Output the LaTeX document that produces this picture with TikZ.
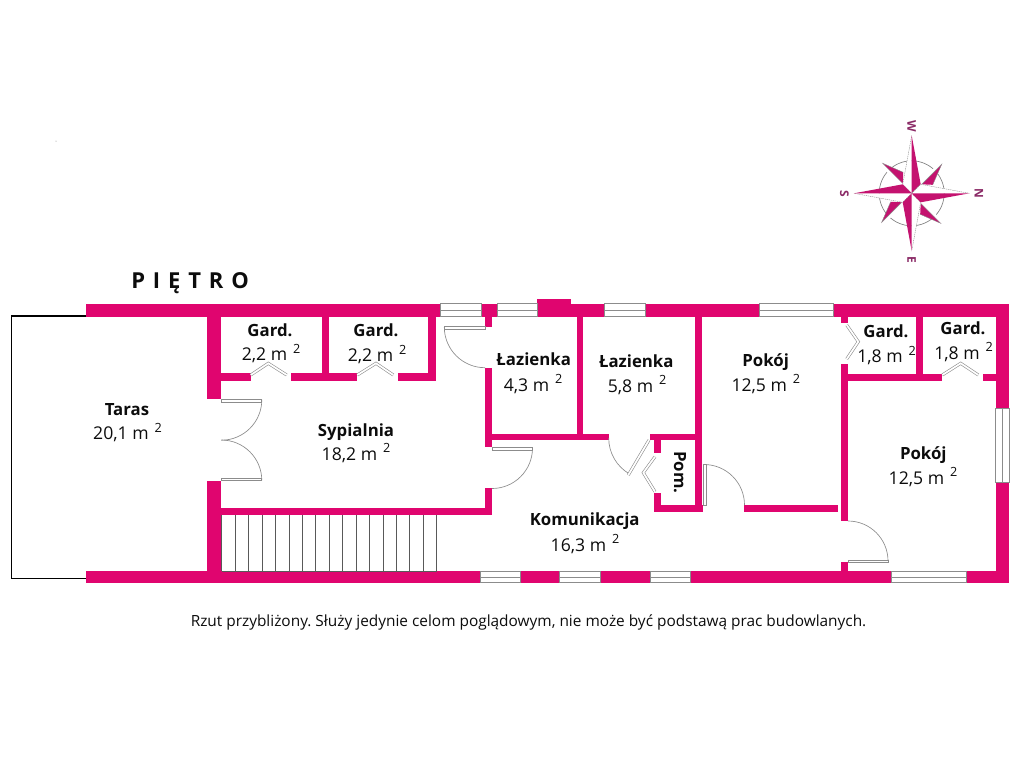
\documentclass[tikz,border=0pt]{standalone}
\usepackage{fontspec}
\setmainfont{Open Sans}
\frenchspacing
\definecolor{wallc}{HTML}{E0056F}
\definecolor{starc}{HTML}{C4126F}
\definecolor{labc}{HTML}{8A2A66}
\definecolor{doorc}{HTML}{8C8C8C}
\definecolor{inkc}{HTML}{0C0C0C}
\tikzset{
  wall/.style={fill=wallc,draw=none},
  win/.style={draw=doorc,line width=.55pt,fill=white},
  door/.style={draw=doorc,line width=.5pt},
  leaf/.style={draw=doorc,line width=.5pt,fill=white},
  tread/.style={draw=black!65,line width=.6pt},
  fold/.style={draw=doorc,line width=2.2pt,line join=miter},
  foldin/.style={draw=white,line width=1.3pt,line join=miter},
  head/.style={font=\fontsize{12.6}{14}\selectfont\bfseries,text=inkc,anchor=base,inner sep=0pt,yshift=-.2pt},
  area/.style={font=\fontsize{13.2}{15}\selectfont,text=inkc,anchor=base,inner sep=0pt,yshift=-.4pt},
  comp/.style={font=\fontsize{9}{10}\selectfont\bfseries,text=labc,rotate=-90,inner sep=0pt},
}
\newcommand{\sq}[1]{#1 m\,\,\raisebox{5.4pt}{\fontsize{9.5}{10}\selectfont 2}}
\newcommand{\wnd}[4]{\draw[win] (#1,#2) rectangle (#3,#4);}
\newcommand{\foldpath}[6]{\draw[fold] (#1,#2)--(#3,#4)--(#5,#6);\draw[foldin] (#1,#2)--(#3,#4)--(#5,#6);}
\begin{document}
\begin{tikzpicture}[x=.75pt,y=-.75pt]
\useasboundingbox (0,0) rectangle (1024,768);
% terrace outline
\draw[black,line width=1.1pt] (86,316) -- (11.3,316) -- (11.3,578.3) -- (86,578.3);
% outer walls
\fill[wall] (85.7,303.5) rectangle (440,316.7);
\fill[wall] (481,303.5) rectangle (497.3,316.7);
\fill[wall] (537.3,299) rectangle (571,316.7);
\fill[wall] (571,303.5) rectangle (604.3,316.7);
\fill[wall] (645,303.5) rectangle (759,316.7);
\fill[wall] (833.3,303.5) rectangle (1009.3,316.7);
\fill[wall] (85.7,571) rectangle (480,582.7);
\fill[wall] (520.7,571) rectangle (559.3,582.7);
\fill[wall] (600,571) rectangle (650,582.7);
\fill[wall] (690,571) rectangle (891.7,582.7);
\fill[wall] (966.7,571) rectangle (1009.3,582.7);
\fill[wall] (995.7,303.5) rectangle (1009.3,408.3);
\fill[wall] (995.7,482.7) rectangle (1009.3,582.7);
% windows
\wnd{440}{303.5}{481}{316.7}\draw[win] (440,310) -- (481,310);
\wnd{497.3}{303.5}{537.3}{316.7}\draw[win] (497.3,310) -- (537.3,310);
\wnd{604.3}{303.5}{645}{316.7}\draw[win] (604.3,310) -- (645,310);
\wnd{759}{303.5}{833.3}{316.7}\draw[win] (759,310) -- (833.3,310);
\wnd{480}{571}{520.7}{582.7}\draw[win] (480,577) -- (520.7,577);
\wnd{559.3}{571}{600}{582.7}\draw[win] (559.3,577) -- (600,577);
\wnd{650}{571}{690}{582.7}\draw[win] (650,577) -- (690,577);
\wnd{891.7}{571}{966.7}{582.7}\draw[win] (891.7,577) -- (966.7,577);
\wnd{995.7}{408.3}{1009.3}{482.7}\draw[win] (1002.5,408.3) -- (1002.5,482.7);
% inner walls, west part
\fill[wall] (207.3,316) rectangle (221.3,399.3);
\fill[wall] (207.3,480.7) rectangle (221.3,571.5);
\fill[wall] (322.3,316) rectangle (329,380.7);
\fill[wall] (221,373.3) rectangle (250.7,380.7);
\fill[wall] (291,373.3) rectangle (357.3,380.7);
\fill[wall] (397.7,373.3) rectangle (436,380.7);
\fill[wall] (428.3,316) rectangle (436,380.7);
\fill[wall] (221,507.7) rectangle (492,514.7);
% inner walls, middle part
\fill[wall] (485,316) rectangle (492,326.7);
\fill[wall] (485,367.7) rectangle (492,447.3);
\fill[wall] (485,488) rectangle (492,514.7);
\fill[wall] (492,433.7) rectangle (608.7,440);
\fill[wall] (650,433.7) rectangle (701.7,440);
\fill[wall] (576.7,316) rectangle (583.3,434);
\fill[wall] (654.3,440) rectangle (661,453.3);
\fill[wall] (654.3,492.7) rectangle (661,512);
\fill[wall] (654.3,505) rectangle (703.3,512);
\fill[wall] (695,316) rectangle (701.7,512);
% inner walls, east part
\fill[wall] (744.3,505) rectangle (837.7,512);
\fill[wall] (841,316) rectangle (848.3,323.3);
\fill[wall] (841,364) rectangle (848.3,521);
\fill[wall] (841,562) rectangle (848.3,571.5);
\fill[wall] (848,374) rectangle (942.3,380.7);
\fill[wall] (982.7,374) rectangle (996,380.7);
\fill[wall] (916,316) rectangle (922.7,374);
% stairs
\foreach \n in {0,...,16}{
  \draw[tread] ({221.7+\n*13.44},515) -- ({221.7+\n*13.44},571);
}
\draw[tread] (221.7,571) -- (436.7,571);
% swing doors
\draw[door] (261.8,399.7) arc (0:90:40.5);
\draw[door] (221.3,440) arc (-90:0:40.5);
\draw[leaf] (221.3,399.4) rectangle (261.8,402);
\draw[leaf] (221.3,478) rectangle (261.8,480.6);
\draw[door] (444.3,327) arc (180:90:40.7);
\draw[leaf] (444.3,326.7) rectangle (485,329.3);
\draw[door] (532.5,448) arc (0:90:40.5);
\draw[leaf] (492,447.3) rectangle (532.7,450);
\draw[door] (608.7,438) arc (180:120:41.5);
\foldpath{649}{440}{628.3}{475}{628.3}{475}
\draw[door] (704,464.5) arc (-90:0:40.5);
\draw[leaf] (703.3,464.3) rectangle (706,505);
\draw[door] (848,521) arc (-90:0:40);
\draw[leaf] (848.3,560) rectangle (888.3,562.7);
% folding doors
\foldpath{250.7}{375}{268.3}{363.3}{286.7}{375}
\foldpath{357.3}{375}{376}{363.3}{393.3}{375}
\foldpath{846.7}{325}{858.3}{341.7}{846.7}{359}
\foldpath{942.3}{375}{960.7}{363.3}{978.3}{375}
\foldpath{655}{456.7}{643.3}{472.7}{655}{491.7}
% compass
\begin{scope}[shift={(911.7,193.3)}]
  \draw[draw=black!50,line width=.5pt] (0,0) circle (32.5);
  \foreach \a in {0,90,180,270}{
    \begin{scope}[rotate=\a]
      \fill[white] (0,0) -- (-9,-9) -- (30,-29) -- (9,-9) -- cycle;
      \fill[starc] (30,-29) -- (10,-9) -- (21,-8.5) -- cycle;
      \draw[black!45,line width=.3pt] (10,-9) -- (30,-29) -- (21,-8.5);
    \end{scope}
  }
  \foreach \a in {0,90,180,270}{
    \begin{scope}[rotate=\a]
      \fill[white] (0,0) -- (-9,-9) -- (0,-57.7) -- cycle;
      \draw[black!45,line width=.3pt,dash pattern=on 1pt off .6pt] (0,0) -- (-9,-9) -- (0,-57.7);
      \fill[starc] (0,0) -- (9,-9) -- (0,-57.7) -- cycle;
    \end{scope}
  }
\end{scope}
\node[comp] (compW) at (911.7,126.7) {W};
\node[comp] (compN) at (979,193.3) {N};
\node[comp] (compS) at (844.3,193.3) {S};
\node[comp] (compE) at (911.7,260) {E};
% speck
\fill[black!50] (56,141) circle (.5);
% title
\node[font=\fontsize{16.5}{18}\selectfont\bfseries,text=inkc,anchor=base west,inner sep=0pt] (title) at (131,288) {\spaceskip=5.9pt P I Ę T R O};
% labels
\node[head] (tarasH) at (127,415) {Taras};
\node[area] (tarasA) at (127.5,439) {\sq{20,1}};
\node[head] (g1H) at (270,336) {Gard.};
\node[area] (g1A) at (271,360) {\sq{2,2}};
\node[head] (g2H) at (376,336.5) {Gard.};
\node[area] (g2A) at (377,361) {\sq{2,2}};
\node[head] (l1H) at (533.7,365.5) {Łazienka};
\node[area] (l1A) at (533,390.5) {\sq{4,3}};
\node[head] (l2H) at (636.3,367) {Łazienka};
\node[area] (l2A) at (637,391.5) {\sq{5,8}};
\node[head] (p1H) at (765.7,366) {Pokój};
\node[area] (p1A) at (765.8,390.5) {\sq{12,5}};
\node[head] (g3H) at (886,337.5) {Gard.};
\node[area] (g3A) at (886.5,362) {\sq{1,8}};
\node[head] (g4H) at (963,334.5) {Gard.};
\node[area] (g4A) at (963.5,358.5) {\sq{1,8}};
\node[head] (p2H) at (923.3,459.5) {Pokój};
\node[area] (p2A) at (923,483.5) {\sq{12,5}};
\node[head] (kH) at (584.7,525.5) {Komunikacja};
\node[area] (kA) at (585,550.5) {\sq{16,3}};
\node[head] (sH) at (356,436.5) {Sypialnia};
\node[area] (sA) at (356,459.5) {\sq{18,2}};
\node[font=\fontsize{12.6}{14}\selectfont\bfseries,text=inkc,rotate=-90,inner sep=0pt] (pomH) at (680,472.5) {Pom.};
% caption
\node[font=\fontsize{11.55}{13}\selectfont,text=inkc,anchor=base,inner sep=0pt] (note) at (528.5,626) {Rzut przybliżony. Służy jedynie celom poglądowym, nie może być podstawą prac budowlanych.};
\end{tikzpicture}
\end{document}
